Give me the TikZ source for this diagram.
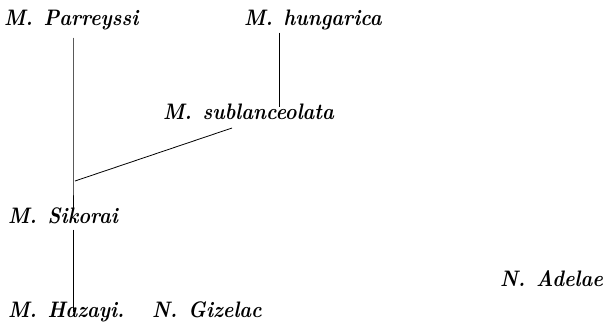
\documentclass[tikz,border=0pt]{standalone}
\usepackage{fontspec}
\usepackage{graphicx}
\newcommand\taxfont{\fontsize{22.5}{26}\selectfont\bfseries\itshape\spaceskip=0.55em plus 0.1em\relax}
\newcommand\narrow[1]{\scalebox{0.89}[1]{#1}}
\begin{document}
\begin{tikzpicture}[x=1bp,y=-1bp,
  taxon/.style={anchor=base west,inner sep=0pt,font=\taxfont},
  link/.style={line width=0.8bp}]
\useasboundingbox (0,0) rectangle (607,322);
% species names
\node[taxon] (par) at (4,25) {\narrow{M. Parreyssi}};
\node[taxon] (hun) at (244,25) {\narrow{M. hungarica}};
\node[taxon] (sub) at (163,119) {\narrow{M. sublanceolata}};
\node[taxon] (sik) at (8,223) {\narrow{M. Sikorai}};
\node[taxon] (haz) at (8,317) {\narrow{M. Hazayi.}};
\node[taxon] (giz) at (152,317) {\narrow{N. Gizelac}};
\node[taxon] (ade) at (500,286) {\narrow{N. Adelae}};
% branch points
\coordinate (stem) at (73,0);
\coordinate (hstem) at (279,0);
\coordinate (junc) at (75,181);
\coordinate (sublow) at (232,128);
% lines
\draw[link] (par.south -| stem) ++(0,8) -- (stem |- junc) -- ([yshift=-3bp]sik.north -| stem);
\draw[link] (hun.south -| hstem) ++(0,3) -- ([yshift=-4bp]sub.north -| hstem);
\draw[link] (junc) -- (sublow);
\draw[link] (sik.south -| stem) ++(0,6) -- ([yshift=-11bp]haz.north -| stem);
\end{tikzpicture}
\end{document}
